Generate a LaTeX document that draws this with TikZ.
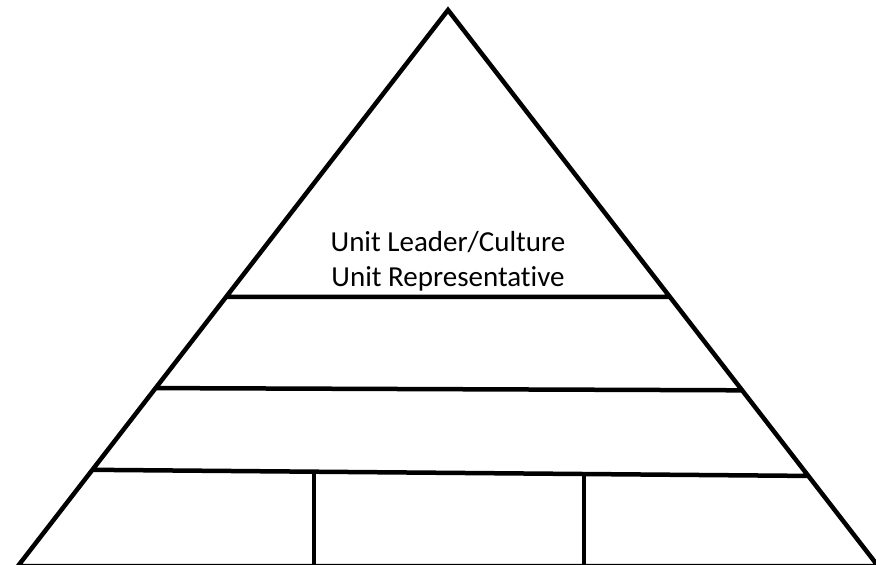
\documentclass[tikz,border=0pt]{standalone}
\usepackage{fontspec}
\setmainfont[Ligatures=NoCommon]{Carlito}
\usetikzlibrary{calc}
\tikzset{
    tier/.style =   {draw=black,
                    line width=4.5pt,
                    line cap=round},
    wall/.style =   {draw=black,
                    line width=4pt},
    label/.style =  {align=center,
                    text=black,
                    inner sep=0pt,
                    font=\fontsize{29}{35}\selectfont}}

\begin{document}
\begin{tikzpicture}[x=1pt,y=-1pt]
                \useasboundingbox (0,0) rectangle (876,565);
                \coordinate (apex) at (448,10);
                \coordinate (BL)   at (18,566);
                \coordinate (BR)   at (878,566);
                % tier ends on the two sides
                \coordinate (L1) at ($(apex)!0.516!(BL)$);
                \coordinate (R1) at ($(apex)!0.516!(BR)$);
                \coordinate (L2) at ($(apex)!0.680!(BL)$);
                \coordinate (R2) at ($(apex)!0.684!(BR)$);
                \coordinate (L3) at ($(apex)!0.827!(BL)$);
                \coordinate (R3) at ($(apex)!0.838!(BR)$);
                \coordinate (S1) at (314,473);
                \coordinate (S2) at (584,475);
                \coordinate (B1) at (314,565);
                \coordinate (B2) at (584,565);
                \path [tier]    (BL) -- (apex) -- (BR)
                                (BL) -- (BR)
                                (L1) -- (R1)
                                (L2) -- (R2)
                                (L3) -- (R3);
                \path [wall]    (S1) -- (B1)
                                (S2) -- (B2);
                \node[label]    (top) at (448,261) {Unit Leader/Culture\\Unit Representative};
        \end{tikzpicture}
\end{document}
